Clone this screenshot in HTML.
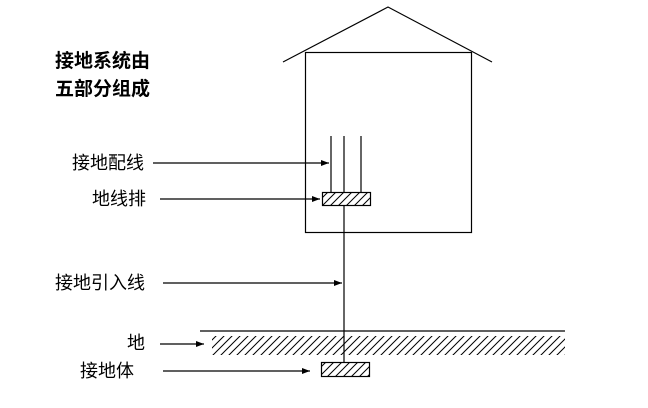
<!DOCTYPE html>
<html><head><meta charset="utf-8"><style>
body{margin:0;background:#fff;width:648px;height:403px;overflow:hidden}
text{font-family:"Liberation Sans","Noto Sans CJK SC",sans-serif;fill:#000}
</style></head><body>
<svg width="648" height="403" viewBox="0 0 648 403" xmlns="http://www.w3.org/2000/svg">
<defs>
<pattern id="h" width="8" height="8" patternUnits="userSpaceOnUse">
<path d="M-2,10 L10,-2 M-2,2 L2,-2 M6,10 L10,6" stroke="#000" stroke-width="1"/>
</pattern>
<marker id="a" markerWidth="8" markerHeight="6" refX="8" refY="3" orient="auto" markerUnits="userSpaceOnUse">
<path d="M0,0 L8,3 L0,6 z" fill="#000"/></marker>
</defs>
<g stroke="#000" stroke-width="1.2" fill="none">
<polyline points="283,62 388,7 492,62"/>
<rect x="305.5" y="52.5" width="166" height="180"/>
<line x1="331" y1="136" x2="331" y2="192"/>
<line x1="344" y1="136" x2="344" y2="192"/>
<line x1="361" y1="136" x2="361" y2="192"/>
<line x1="344" y1="205" x2="344" y2="362"/>
<line x1="200" y1="331" x2="565" y2="331"/>
</g>
<rect x="212" y="336" width="353" height="19" fill="url(#h)"/>
<rect x="322.5" y="192.5" width="48" height="13" fill="url(#h)" stroke="#000" stroke-width="1.2"/>
<rect x="321.5" y="362.5" width="48" height="14" fill="url(#h)" stroke="#000" stroke-width="1.2"/>
<g stroke="#000" stroke-width="1.2" marker-end="url(#a)">
<line x1="153" y1="163" x2="329" y2="163"/>
<line x1="160" y1="199" x2="320" y2="199"/>
<line x1="163" y1="283" x2="342" y2="283"/>
<line x1="160" y1="344" x2="204" y2="344"/>
<line x1="163" y1="371" x2="310" y2="371"/>
</g>
<text x="55" y="67" font-size="19" font-weight="bold">接地系统由</text>
<text x="55" y="95" font-size="19" font-weight="bold">五部分组成</text>
<g font-size="18">
<text x="72" y="169">接地配线</text>
<text x="92" y="205">地线排</text>
<text x="55" y="289">接地引入线</text>
<text x="127" y="349">地</text>
<text x="80" y="377">接地体</text>
</g>
</svg>
</body></html>
